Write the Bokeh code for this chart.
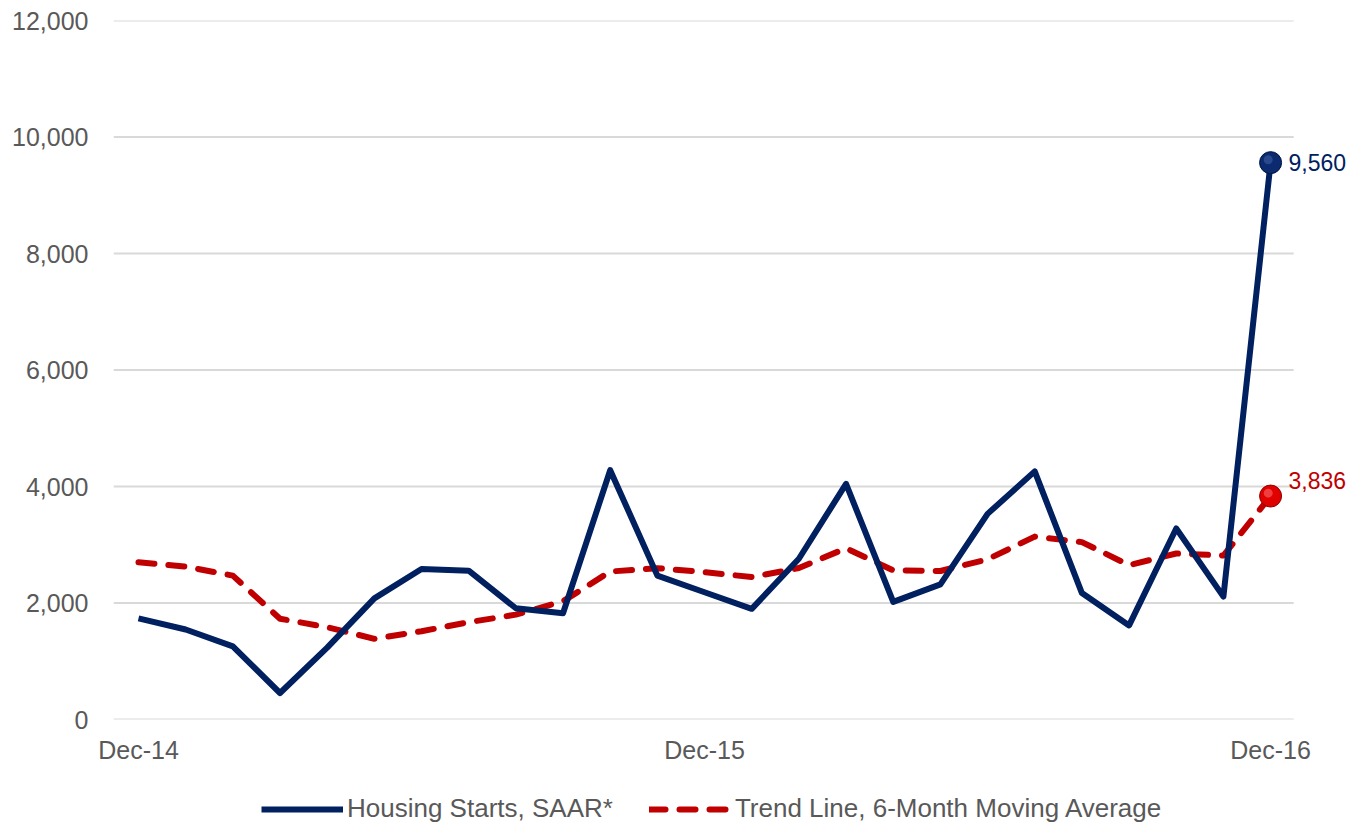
from bokeh.plotting import figure
from bokeh.layouts import column
from bokeh.models import (Range1d, FixedTicker, NumeralTickFormatter, Legend, LegendItem,
                          ColumnDataSource, Label)
from bokeh.embed import file_html
from bokeh.resources import INLINE

months = ["Dec-14", "Jan-15", "Feb-15", "Mar-15", "Apr-15", "May-15", "Jun-15", "Jul-15",
          "Aug-15", "Sep-15", "Oct-15", "Nov-15", "Dec-15", "Jan-16", "Feb-16", "Mar-16",
          "Apr-16", "May-16", "Jun-16", "Jul-16", "Aug-16", "Sep-16", "Oct-16", "Nov-16", "Dec-16"]
housing_starts = [1735, 1545, 1255, 455, 1235, 2080, 2585, 2555, 1910, 1825, 4280, 2470,
                  2185, 1900, 2760, 4045, 2020, 2320, 3530, 4260, 2170, 1615, 3280, 2110, 9560]
trend_line = [2700, 2625, 2470, 1730, 1585, 1385, 1515, 1670, 1800, 2030, 2540, 2598,
              2530, 2445, 2600, 2940, 2560, 2550, 2750, 3140, 3045, 2650, 2850, 2815, 3836]
tick_months = ["Dec-14", "Dec-15", "Dec-16"]
y_ticks = [0, 2000, 4000, 6000, 8000, 10000, 12000]
series_names = ["Housing Starts, SAAR*", "Trend Line, 6-Month Moving Average"]

x = list(range(len(months)))
src = ColumnDataSource(dict(x=x, hs=housing_starts, tr=trend_line))

FONT = "Liberation Sans"
BLUE = "#002060"
RED = "#C00000"
GREY = "#595959"
GRID = "#d9d9d9"

X0, X1 = -0.53, 24.49          # visible axis extent
FW = 1240
XR = X0 + FW / 47.17            # frame extends to leave room for end labels

p = figure(frame_width=FW, frame_height=699, output_backend="svg", toolbar_location=None,
           x_range=Range1d(X0, XR), y_range=Range1d(0, 12000),
           min_border_left=113, min_border_right=0, min_border_top=20, min_border_bottom=45)
p.outline_line_color = None
p.background_fill_color = "white"
p.border_fill_color = "white"

# grid lines drawn only over the axis extent
p.xgrid.grid_line_color = None
p.ygrid.grid_line_color = None
p.segment(x0=[X0] * len(y_ticks), x1=[X1] * len(y_ticks), y0=y_ticks, y1=y_ticks,
          line_color=GRID, line_width=2)

p.yaxis.ticker = FixedTicker(ticks=y_ticks)
p.yaxis.formatter = NumeralTickFormatter(format="0,0")
p.yaxis.axis_line_color = None
p.yaxis.major_tick_line_color = None
p.yaxis.minor_tick_line_color = None
p.yaxis.major_label_text_font = FONT
p.yaxis.major_label_text_font_size = "25px"
p.yaxis.major_label_text_color = GREY
p.yaxis.major_label_standoff = 19

tick_pos = [months.index(m) for m in tick_months]
p.xaxis.ticker = FixedTicker(ticks=tick_pos)
p.xaxis.major_label_overrides = {i: m for i, m in zip(tick_pos, tick_months)}
p.xaxis.axis_line_color = None
p.xaxis.major_tick_line_color = None
p.xaxis.minor_tick_line_color = None
p.xaxis.major_label_text_font = FONT
p.xaxis.major_label_text_font_size = "25px"
p.xaxis.major_label_text_color = GREY
p.xaxis.major_label_standoff = 10

TR_STYLE = dict(line_color=RED, line_width=6, line_dash="16 14", line_cap="round", line_join="round")
HS_STYLE = dict(line_color=BLUE, line_width=6, line_join="round")

p.line("x", "tr", source=src, **TR_STYLE)
p.line("x", "hs", source=src, **HS_STYLE)

# end markers
lx = x[-1]
p.scatter([lx], [housing_starts[-1]], size=22, fill_color="#0b2a70", line_color="#001540", line_width=1)
p.scatter([lx], [trend_line[-1]], size=22, fill_color="#e00000", line_color="#900000", line_width=1)
p.scatter([lx - 0.05], [housing_starts[-1] + 50], size=9, fill_color="#4a68a8", line_color=None, fill_alpha=0.5)
p.scatter([lx - 0.05], [trend_line[-1] + 50], size=9, fill_color="#ff7a7a", line_color=None, fill_alpha=0.5)

p.add_layout(Label(x=lx, y=housing_starts[-1], text=f"{housing_starts[-1]:,}", x_offset=18,
                   text_baseline="middle", text_font=FONT, text_font_size="23px", text_color=BLUE))
p.add_layout(Label(x=lx, y=trend_line[-1], text=f"{trend_line[-1]:,}", x_offset=18, y_offset=16,
                   text_baseline="middle", text_font=FONT, text_font_size="23px", text_color=RED))

# legend in its own strip below the chart (series drawn out of view, only legend visible)
lg = figure(width=1358, height=80, output_backend="svg", toolbar_location=None,
            x_range=Range1d(-1000, -999), y_range=Range1d(-1000, -999),
            x_axis_location=None, y_axis_location=None,
            min_border_left=0, min_border_right=0, min_border_top=0, min_border_bottom=0)
lg.grid.visible = False
lg.outline_line_color = None
l_hs = lg.line("x", "hs", source=src, **HS_STYLE)
l_tr = lg.line("x", "tr", source=src, **TR_STYLE)
legend = Legend(items=[LegendItem(label=series_names[0], renderers=[l_hs]),
                       LegendItem(label=series_names[1], renderers=[l_tr])],
                orientation="horizontal", location=(148, 22),
                label_text_font=FONT, label_text_font_size="26px",
                label_text_color=GREY, glyph_width=82, glyph_height=20,
                label_standoff=4, spacing=36, border_line_color=None,
                background_fill_alpha=0, margin=0, padding=4)
lg.add_layout(legend)

layout = column(p, lg, spacing=0)
open("out.html", "w").write(file_html(layout, INLINE))
